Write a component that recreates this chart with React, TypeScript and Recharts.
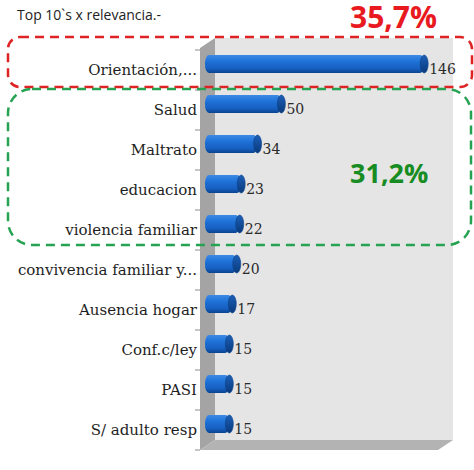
import { BarChart, Bar, XAxis, YAxis, LabelList } from "recharts";

const categories = [
  "Orientación,...",
  "Salud",
  "Maltrato",
  "educacion",
  "violencia familiar",
  "convivencia familiar y...",
  "Ausencia hogar",
  "Conf.c/ley",
  "PASI",
  "S/ adulto resp",
];
const values = [146, 50, 34, 23, 22, 20, 17, 15, 15, 15];
const xDomain = [0, 160];

const data = categories.map((name, i) => ({ name, value: values[i] }));

// layout
const W = 474;
const H = 470;
const AXIS_W = 211;
const MARGIN = { top: 50, right: 25, bottom: 20, left: 0 };
const PLOT_L = MARGIN.left + AXIS_W;
const PLOT_T = MARGIN.top;
const PLOT_R = W - MARGIN.right;
const PLOT_B = H - MARGIN.bottom;
const BAND = (PLOT_B - PLOT_T) / categories.length;
const DX = 15;
const DY = -10;
const FRONT_X = PLOT_L - 11;

const serif = "DejaVu Serif";
const sans = "Open Sans";

function Cylinder(props: any) {
  const { x, y, width, height } = props;
  if (width <= 0) return null;
  const x0 = x - 6;
  const y0 = y - 6;
  const rx = 4;
  const xe = x + width - rx;
  return (
    <g>
      <rect x={x0} y={y0} width={xe - x0} height={height} rx={rx} ry={height / 2.2} fill="url(#cylBody)" />
      <ellipse cx={xe} cy={y0 + height / 2} rx={rx} ry={height / 2} fill="url(#cylCap)" stroke="#0a3f86" strokeWidth={0.6} />
    </g>
  );
}

function ValueLabel(props: any) {
  const { x, y, width, height, value } = props;
  return (
    <text x={x + width + 1} y={y + height / 2 + 4} fontFamily={serif} fontSize={14} fill="#2a2a2a">
      {value}
    </text>
  );
}

function CategoryTick(props: any) {
  const { y, payload } = props;
  return (
    <text x={PLOT_L - 14} y={y + 5} textAnchor="end" fontFamily={serif} fontSize={15} fill="#1e1e1e">
      {payload.value}
    </text>
  );
}

function Backdrop() {
  const ticks = Array.from({ length: categories.length + 1 }, (_, i) => PLOT_T + BAND * i);
  return (
    <svg width={W} height={H} style={{ position: "absolute", left: 0, top: 0 }}>
      <rect x={FRONT_X + DX} y={PLOT_T + DY - 2} width={PLOT_R + 4 - FRONT_X - DX} height={PLOT_B - PLOT_T + 2} fill="#e5e5e5" />
      <polygon
        points={`${FRONT_X},${PLOT_T - 2} ${FRONT_X + DX},${PLOT_T + DY - 2} ${FRONT_X + DX},${PLOT_B + DY} ${FRONT_X},${PLOT_B}`}
        fill="#a4a4a4"
      />
      <polygon
        points={`${FRONT_X},${PLOT_B} ${FRONT_X + DX},${PLOT_B + DY} ${PLOT_R + 4},${PLOT_B + DY} ${PLOT_R + 4 - DX},${PLOT_B}`}
        fill="#b3b3b3"
      />
      {ticks.map((t, i) => (
        <line key={i} x1={FRONT_X - 5} x2={FRONT_X} y1={t} y2={t} stroke="#8a8a8a" strokeWidth={1} />
      ))}
    </svg>
  );
}

function Overlay() {
  return (
    <>
      <svg width={W} height={H} style={{ position: "absolute", left: 0, top: 0, pointerEvents: "none" }}>
        <text x={17} y={20} fontFamily={sans} fontSize={14} fill="#222">
          Top 10`s x relevancia.-
        </text>
        <text x={350} y={183} fontFamily={sans} fontSize={27} fontWeight={700} fill="#178c22">
          31,2%
        </text>
        <rect x={8} y={37} width={464} height={50} rx={12} fill="none" stroke="#dd2323" strokeWidth={2.5} strokeDasharray="9 6" />
        <rect x={8} y={89} width={463} height={156} rx={24} fill="none" stroke="#25a352" strokeWidth={2.5} strokeDasharray="9 6" />
      </svg>
      <div
        style={{
          position: "absolute",
          left: 350,
          top: 2,
          fontFamily: sans,
          fontSize: 30,
          fontWeight: 700,
          lineHeight: "30px",
          color: "#e8191f",
          whiteSpace: "nowrap",
        }}
      >
        35,7%
      </div>
    </>
  );
}

export default function App() {
  return (
    <div style={{ position: "absolute", left: 0, top: 0, width: W, height: H, background: "#fff" }}>
      <Backdrop />
      <div style={{ position: "absolute", left: 0, top: 0 }}>
        <BarChart width={W} height={H} data={data} layout="vertical" margin={MARGIN} barSize={18}>
          <defs>
            <linearGradient id="cylBody" x1="0" y1="0" x2="0" y2="1">
              <stop offset="0%" stopColor="#3d8ae6" />
              <stop offset="35%" stopColor="#1f72d8" />
              <stop offset="75%" stopColor="#165fbf" />
              <stop offset="100%" stopColor="#0c4390" />
            </linearGradient>
            <linearGradient id="cylCap" x1="0" y1="0" x2="0" y2="1">
              <stop offset="0%" stopColor="#1c5fb8" />
              <stop offset="100%" stopColor="#0a3a7c" />
            </linearGradient>
          </defs>
          <XAxis type="number" domain={xDomain} hide />
          <YAxis
            type="category"
            dataKey="name"
            width={AXIS_W}
            axisLine={false}
            tickLine={false}
            interval={0}
            tick={<CategoryTick />}
          />
          <Bar dataKey="value" shape={<Cylinder />} isAnimationActive={false}>
            <LabelList dataKey="value" content={<ValueLabel />} />
          </Bar>
        </BarChart>
      </div>
      <Overlay />
    </div>
  );
}
